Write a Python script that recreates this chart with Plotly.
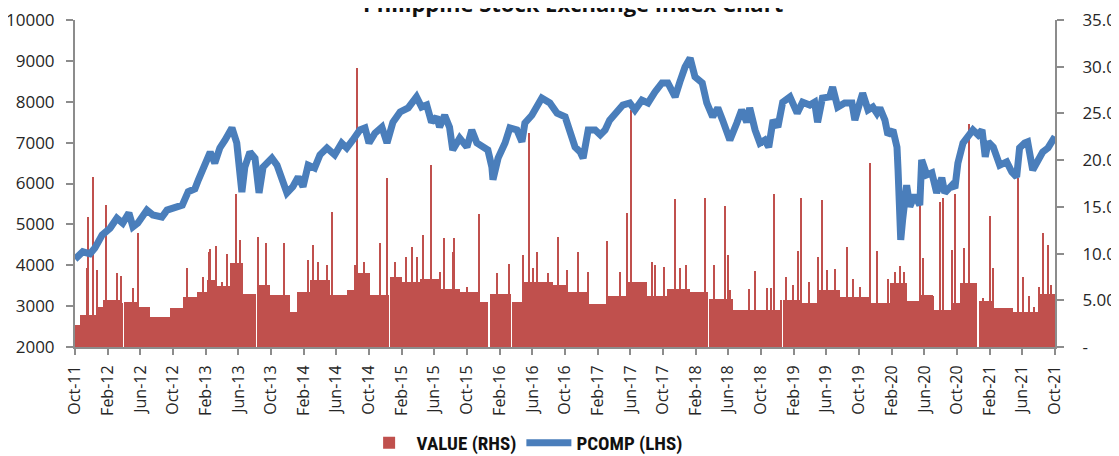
import pandas as pd
import plotly.graph_objects as go

# ---------------- data ----------------
PCOMP_DATES = [
    "2011-10-01", "2011-10-30", "2011-11-26", "2011-12-14", "2012-01-10", "2012-02-09", "2012-03-05",
    "2012-03-27", "2012-04-19", "2012-05-04", "2012-05-22", "2012-06-25", "2012-07-17", "2012-08-20",
    "2012-09-08", "2012-10-15", "2012-11-04", "2012-11-26", "2012-12-21", "2013-01-03", "2013-01-21",
    "2013-02-16", "2013-03-05", "2013-03-24", "2013-04-12", "2013-05-08", "2013-05-26", "2013-06-14",
    "2013-06-25", "2013-07-14", "2013-08-02", "2013-08-17", "2013-09-01", "2013-10-04", "2013-10-23",
    "2013-11-11", "2013-11-29", "2013-12-21", "2014-01-10", "2014-01-28", "2014-02-16", "2014-03-12",
    "2014-04-01", "2014-04-27", "2014-05-26", "2014-06-21", "2014-07-10", "2014-08-01", "2014-08-28",
    "2014-09-16", "2014-10-01", "2014-10-23", "2014-11-18", "2014-12-07", "2014-12-29", "2015-01-25",
    "2015-02-24", "2015-03-27", "2015-04-15", "2015-05-04", "2015-05-22", "2015-06-10", "2015-06-21",
    "2015-07-10", "2015-07-28", "2015-08-09", "2015-09-04", "2015-10-01", "2015-10-19", "2015-11-07",
    "2015-11-30", "2015-12-18", "2016-01-02", "2016-01-06", "2016-01-25", "2016-02-20", "2016-03-09",
    "2016-04-04", "2016-04-23", "2016-05-04", "2016-05-30", "2016-06-18", "2016-07-06", "2016-08-05",
    "2016-09-01", "2016-10-01", "2016-10-19", "2016-11-07", "2016-11-26", "2016-12-07", "2016-12-26",
    "2017-01-21", "2017-02-09", "2017-02-27", "2017-03-16", "2017-04-12", "2017-05-04", "2017-05-30",
    "2017-06-18", "2017-07-14", "2017-08-06", "2017-09-01", "2017-09-27", "2017-10-19", "2017-11-15",
    "2017-12-03", "2017-12-22", "2018-01-10", "2018-01-28", "2018-02-24", "2018-03-13", "2018-04-04",
    "2018-04-23", "2018-05-11", "2018-06-07", "2018-07-03", "2018-07-21", "2018-08-09", "2018-08-20",
    "2018-09-09", "2018-09-27", "2018-10-15", "2018-10-30", "2018-11-15", "2018-12-03", "2018-12-21",
    "2019-01-17", "2019-02-13", "2019-03-05", "2019-04-01", "2019-04-19", "2019-04-30", "2019-05-18",
    "2019-06-14", "2019-06-25", "2019-07-14", "2019-08-09", "2019-09-05", "2019-09-16", "2019-10-04",
    "2019-10-15", "2019-11-04", "2019-11-22", "2019-12-07", "2019-12-18", "2020-01-06", "2020-01-17",
    "2020-02-05", "2020-02-20", "2020-02-24", "2020-03-01", "2020-03-05", "2020-03-12", "2020-03-27",
    "2020-04-08", "2020-04-26", "2020-05-15", "2020-05-22", "2020-06-10", "2020-06-29", "2020-07-17",
    "2020-08-05", "2020-08-16", "2020-09-12", "2020-09-23", "2020-10-04", "2020-10-23", "2020-11-11",
    "2020-11-29", "2020-12-18", "2021-01-02", "2021-01-14", "2021-01-25", "2021-02-13", "2021-03-09",
    "2021-04-04", "2021-04-23", "2021-05-11", "2021-05-22", "2021-06-10", "2021-06-21", "2021-07-10",
    "2021-07-28", "2021-08-16", "2021-09-05", "2021-09-24", "2021-10-01",
]
PCOMP_VALS = [
    4150, 4330, 4280, 4420, 4740, 4910, 5150,
    5030, 5280, 4940, 5030, 5350, 5230, 5180,
    5350, 5450, 5470, 5800, 5870, 6090, 6400,
    6770, 6500, 6870, 7060, 7360, 6990, 5790,
    6400, 6770, 6620, 5770, 6400, 6620, 6450,
    6090, 5770, 5920, 6160, 5920, 6450, 6380,
    6700, 6870, 6700, 6990, 6870, 7060, 7310,
    7360, 6990, 7230, 7380, 6990, 7500, 7750,
    7850, 8120, 7870, 7920, 7500, 7630, 7380,
    7670, 7380, 6820, 7110, 6890, 7310, 6990,
    6890, 6820, 6400, 6090, 6620, 6990, 7360,
    7310, 7020, 7480, 7670, 7850, 8090, 7970,
    7720, 7630, 7230, 6890, 6770, 6620, 7310,
    7310, 7190, 7310, 7550, 7750, 7920, 7970,
    7800, 8040, 7970, 8240, 8460, 8460, 8120,
    8490, 8850, 9070, 8610, 8460, 7970, 7630,
    7850, 7550, 7060, 7480, 7800, 7500, 7850,
    7310, 6990, 7060, 6890, 7550, 7380, 7990,
    8120, 7720, 7990, 7920, 7990, 7500, 8090,
    8120, 8360, 7870, 7970, 7970, 7550, 7970,
    8210, 7800, 7870, 7720, 7850, 7550, 7190,
    7310, 6890, 6330, 5520, 4620, 5110, 5960,
    5430, 5720, 5470, 6580, 6210, 6260, 5770,
    6140, 5770, 5960, 5890, 6500, 6990, 7140,
    7310, 7190, 7310, 6650, 7020, 6890, 6450,
    6530, 6280, 6160, 6870, 6990, 7020, 6330,
    6580, 6770, 6870, 7110, 7150,
]

# typical daily traded value (RHS), by period start (0 = market closed)
VALUE_BASE_START = [
    "2011-10-01", "2011-10-19", "2011-12-22", "2012-01-13", "2012-03-16", "2012-03-27", "2012-04-01",
    "2012-05-19", "2012-07-06", "2012-09-19", "2012-11-06", "2012-12-28", "2013-02-04", "2013-03-13",
    "2013-04-30", "2013-06-18", "2013-08-05", "2013-08-10", "2013-09-26", "2013-12-10", "2014-01-06",
    "2014-02-23", "2014-05-08", "2014-07-11", "2014-08-17", "2014-10-04", "2014-12-13", "2014-12-18",
    "2015-01-31", "2015-04-08", "2015-06-21", "2015-09-05", "2015-11-18", "2015-12-20", "2015-12-25",
    "2016-03-12", "2016-03-17", "2016-04-26", "2016-08-17", "2016-10-08", "2016-12-22", "2017-03-05",
    "2017-05-19", "2017-08-02", "2017-10-16", "2018-01-10", "2018-03-16", "2018-03-21", "2018-06-18",
    "2018-09-27", "2018-12-11", "2018-12-16", "2018-12-21", "2019-02-24", "2019-05-07", "2019-07-21",
    "2019-11-11", "2020-01-25", "2020-03-27", "2020-05-15", "2020-07-03", "2020-09-16", "2020-10-12",
    "2020-12-15", "2020-12-20", "2021-02-13", "2021-04-27", "2021-08-06",
]
VALUE_BASE = [
    2.4, 3.4, 4.3, 5.0, 4.7, 0.0, 4.8,
    4.3, 3.2, 4.2, 5.4, 5.9, 7.2, 6.5,
    9.0, 5.7, 0.0, 6.6, 5.6, 3.7, 5.9,
    7.2, 5.6, 6.1, 7.9, 5.6, 0.0, 7.5,
    7.0, 7.3, 6.2, 5.9, 4.8, 0.0, 5.7,
    0.0, 4.8, 7.0, 6.6, 5.9, 4.6, 5.5,
    7.0, 5.5, 6.2, 5.9, 0.0, 5.1, 4.0,
    4.0, 5.0, 0.0, 5.0, 4.7, 6.1, 5.4,
    4.7, 6.8, 4.9, 5.6, 4.0, 4.7, 6.8,
    0.0, 4.9, 4.2, 3.7, 5.7,
]
VALUE_END = "2021-10-01"

# individual heavy-volume days (RHS)
SPIKE_DATES = [
    "2011-11-18", "2011-12-07", "2011-12-22", "2012-01-25", "2012-05-22", "2013-02-16", "2013-03-09",
    "2013-05-22", "2013-06-07", "2013-08-13", "2013-09-12", "2013-11-18", "2014-03-05", "2014-05-15",
    "2014-08-17", "2014-11-11", "2014-12-07", "2015-03-09", "2015-04-19", "2015-05-19", "2015-07-06",
    "2015-08-13", "2015-11-15", "2016-04-26", "2016-05-19", "2016-09-05", "2016-11-19", "2017-03-05",
    "2017-05-19", "2017-06-03", "2017-08-20", "2017-09-01", "2017-11-15", "2018-03-05", "2018-05-19",
    "2018-05-30", "2018-09-09", "2018-11-19", "2019-02-16", "2019-03-01", "2019-04-30", "2019-05-15",
    "2019-08-17", "2019-11-11", "2019-12-07", "2020-02-13", "2020-03-01", "2020-05-15", "2020-05-26",
    "2020-07-28", "2020-08-09", "2020-09-23", "2020-10-27", "2020-11-15", "2021-02-02", "2021-02-13",
    "2021-05-15", "2021-06-03", "2021-08-16", "2021-09-05",
    "2011-11-14", "2012-03-05", "2012-03-20", "2012-05-04", "2012-11-21", "2013-01-20", "2013-02-11",
    "2013-03-31", "2013-04-19", "2014-02-15", "2014-03-24", "2014-04-27", "2014-08-10", "2014-09-12",
    "2015-01-05", "2015-02-15", "2015-03-28", "2015-06-22", "2015-08-09", "2015-10-01", "2016-01-21",
    "2016-03-06", "2016-06-04", "2016-06-18", "2016-07-29", "2016-10-08", "2016-12-27", "2017-04-23",
    "2017-10-05", "2017-12-04", "2017-12-26", "2018-04-09", "2018-06-07", "2018-08-17", "2018-10-23",
    "2018-11-07", "2019-01-03", "2019-01-28", "2019-03-28", "2019-06-03", "2019-07-03", "2019-09-08",
    "2019-10-05", "2020-01-17", "2020-03-17", "2020-07-03", "2020-09-12", "2021-01-04", "2021-06-26",
    "2021-07-15", "2021-08-03", "2021-09-16",
]
SPIKE_VALS = [
    13.9, 18.2, 8.2, 15.2, 12.2, 10.5, 10.8,
    16.4, 11.5, 11.8, 11.1, 11.1, 10.9, 14.5,
    29.9, 11.1, 18.1, 10.7, 12.0, 19.5, 11.7,
    11.7, 14.2, 9.8, 22.9, 11.8, 10.2, 11.3,
    14.3, 25.4, 9.1, 8.8, 15.8, 16.0, 15.1,
    9.8, 8.1, 16.4, 10.3, 16.0, 9.6, 15.7,
    10.7, 19.7, 10.3, 8.0, 8.7, 15.2, 9.5,
    15.5, 15.9, 16.4, 10.6, 23.9, 14.0, 8.5,
    18.1, 7.5, 12.2, 10.9,
    8.5, 7.9, 7.6, 6.3, 8.5, 7.5, 10.2,
    7.0, 10.0, 9.3, 9.1, 8.8, 8.8, 9.1,
    9.1, 9.6, 9.6, 8.0, 10.2, 6.4, 7.9,
    8.9, 8.5, 10.2, 7.9, 8.2, 8.0, 8.0,
    8.6, 8.5, 8.8, 8.8, 6.1, 6.2, 6.3,
    6.3, 7.5, 6.6, 7.0, 8.2, 8.3, 7.3,
    6.4, 7.3, 8.0, 5.5, 10.4, 5.2, 5.5,
    4.3, 6.4, 6.6,
]

RHS_TICKS = [0, 5, 10, 15, 20, 25, 30, 35]
RHS_LABELS = ["-", "5.00", "10.00", "15.00", "20.00", "25.00", "30.00", "35.00"]
TITLE = "Philippine Stock Exchange Index Chart"

# ---------------- figure ----------------
RED = "#C0504D"
BLUE = "#4A7EBB"
AXIS = "#8C8C8C"
TXT = "#262626"
FONT = "Open Sans, Lato, sans-serif"

base_start = pd.to_datetime(VALUE_BASE_START)
base_next = list(base_start[1:]) + [pd.Timestamp(VALUE_END)]
base_w = [(n - s).total_seconds() * 1000 for s, n in zip(base_start, base_next)]

spike_w = 4 * 86400 * 1000

fig = go.Figure()
fig.add_trace(go.Bar(
    x=base_start, y=VALUE_BASE, width=base_w, offset=0,
    marker=dict(color=RED, line=dict(width=0)),
    name="VALUE (RHS)", yaxis="y", legendgroup="v",
))
fig.add_trace(go.Bar(
    x=pd.to_datetime(SPIKE_DATES), y=SPIKE_VALS, width=spike_w,
    marker=dict(color=RED, line=dict(width=0)),
    name="VALUE (RHS)", yaxis="y", showlegend=False, legendgroup="v",
))
fig.add_trace(go.Scatter(
    x=pd.to_datetime(PCOMP_DATES), y=PCOMP_VALS, mode="lines",
    line=dict(color=BLUE, width=7), name="PCOMP (LHS)", yaxis="y2",
))

fig.update_layout(
    width=1111, height=448,
    margin=dict(l=67, r=64, t=12, b=109),
    paper_bgcolor="white", plot_bgcolor="white",
    barmode="overlay", bargap=0,
    font=dict(family=FONT, color=TXT, size=16),
    xaxis=dict(
        type="date", range=["2011-10-01", "2021-10-01"],
        tick0="2011-10-01", dtick="M4", tickformat="%b-%y", tickangle=-90,
        ticks="outside", ticklen=6, tickwidth=1.5, tickcolor=AXIS,
        showline=True, linecolor=AXIS, linewidth=2, showgrid=False, zeroline=False,
        tickfont=dict(size=16, color=TXT), ticklabelstandoff=4, automargin=False,
    ),
    yaxis=dict(
        side="right", range=[0, 35], tickvals=RHS_TICKS, ticktext=RHS_LABELS,
        ticks="outside", ticklen=7, tickwidth=1.5, tickcolor=AXIS,
        showline=True, linecolor=AXIS, linewidth=2, showgrid=False, zeroline=False,
        tickfont=dict(size=17, color=TXT), ticklabelstandoff=15, automargin=False,
        ticklabeloverflow="allow",
    ),
    yaxis2=dict(
        side="left", overlaying="y", range=[2000, 10000], dtick=1000, tickformat="d",
        ticks="outside", ticklen=7, tickwidth=1.5, tickcolor=AXIS,
        showline=True, linecolor=AXIS, linewidth=2, showgrid=False, zeroline=False,
        tickfont=dict(size=17, color=TXT), ticklabelstandoff=8, automargin=False,
        ticklabeloverflow="allow",
    ),
    legend=dict(
        orientation="h", xref="container", yref="container",
        x=0.465, xanchor="center", y=0.029, yanchor="middle",
        font=dict(family="Liberation Sans Narrow, Roboto Condensed, sans-serif",
                  size=19, color="#111111", weight="bold"),
        itemwidth=45, traceorder="normal", bgcolor="rgba(0,0,0,0)",
    ),
    showlegend=True,
    annotations=[dict(
        text="<b>" + TITLE + "</b>", xref="paper", yref="paper",
        x=0.508, y=1.052, xanchor="center", yanchor="middle", showarrow=False,
        font=dict(family=FONT, size=22, color="#111111"),
    )],
)

fig.write_html("out.html")
